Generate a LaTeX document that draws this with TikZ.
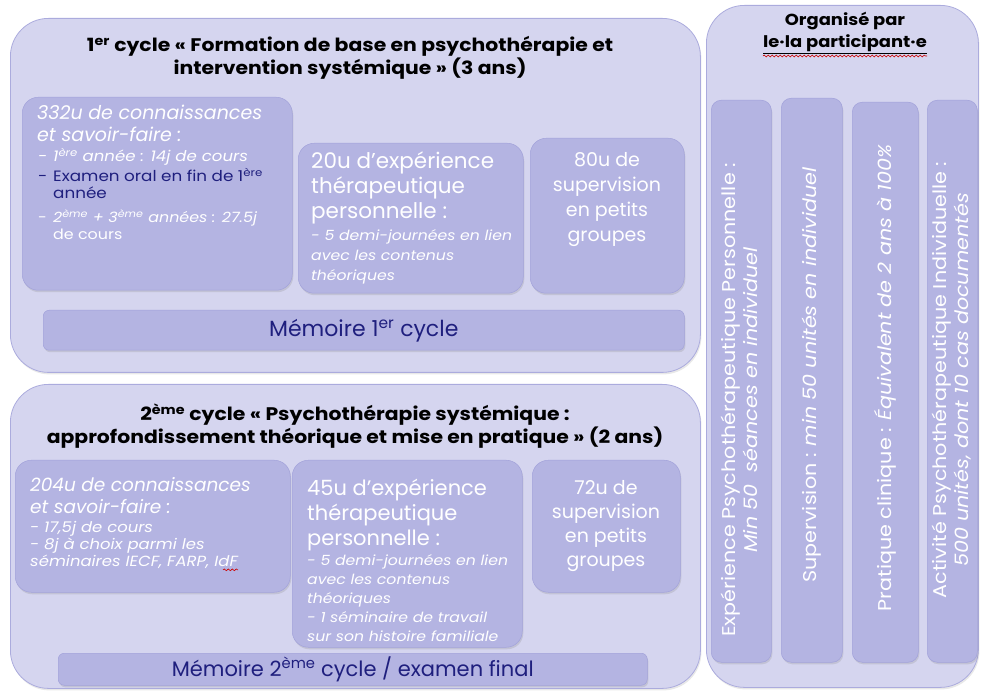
\documentclass[tikz,border=0pt]{standalone}
\usepackage{fontspec}
\setmainfont{Poppins}
\newfontfamily\widefont{Poppins}[FakeStretch=1.12]
\usetikzlibrary{shadows, decorations.pathmorphing}
\definecolor{cyclefill}{HTML}{D5D5EF}
\definecolor{cycleline}{HTML}{ABABDD}
\definecolor{unitfill}{HTML}{B4B4E2}
\definecolor{unitline}{HTML}{A2A2DA}
\definecolor{memtext}{HTML}{1F1F7E}
\tikzset{
  cyclebox/.style={draw=cycleline, fill=cyclefill, line width=0.8pt, rounded corners=38pt, anchor=north west, inner sep=0pt, drop shadow={opacity=0.18, shadow xshift=1pt, shadow yshift=-2pt}},
  unitbox/.style={draw=unitline, fill=unitfill, line width=0.5pt, rounded corners=16pt, anchor=north west, inner sep=0pt, drop shadow={opacity=0.22, shadow xshift=1pt, shadow yshift=-2pt}},
  headtext/.style={align=center, inner sep=0pt, font=\widefont\bfseries\fontsize{18.2}{23.5}\selectfont},
  bigtext/.style={text=white, align=center, inner sep=0pt, font=\fontsize{19}{25}\selectfont},
  smalltext/.style={text=white, align=left, anchor=west, inner sep=0pt, font=\widefont\itshape\fontsize{14}{19}\selectfont},
  coltext/.style={text=white, rotate=90, align=center, inner sep=0pt, font=\widefont\fontsize{18.5}{22}\selectfont},
  spellwave/.style={draw=red!80!black, line width=0.6pt, decorate, decoration={snake, amplitude=0.9pt, segment length=4pt}},
}
\begin{document}
\begin{tikzpicture}[x=1pt, y=-1pt]
\useasboundingbox (0,0) rectangle (983,692);
\node[cyclebox, minimum width=690pt, minimum height=354pt] (cycleA) at (10,18) {};
\node[cyclebox, minimum width=690pt, minimum height=304pt] (cycleB) at (10,384) {};
\node[cyclebox, minimum width=272pt, minimum height=682pt] (byself) at (706,5) {};

\node[unitbox, minimum width=270pt, minimum height=193pt] (knowA) at (22,97) {};
\node[unitbox, minimum width=225pt, minimum height=150pt] (therA) at (298,143) {};
\node[unitbox, minimum width=154pt, minimum height=155pt] (supA) at (530,138) {};
\node[unitbox, minimum width=641pt, minimum height=40pt, rounded corners=6pt, text=memtext, font=\fontsize{22}{26}\selectfont] (memA) at (43,310) {Mémoire 1\textsuperscript{er} cycle};

\node[unitbox, minimum width=275pt, minimum height=132pt] (knowB) at (15,460) {};
\node[unitbox, minimum width=230pt, minimum height=187pt] (therB) at (292,460) {};
\node[unitbox, minimum width=148pt, minimum height=132pt] (supB) at (532,460) {};
\node[unitbox, minimum width=589pt, minimum height=32pt, rounded corners=6pt, text=memtext, font=\fontsize{21}{24}\selectfont] (memB) at (58,653) {Mémoire 2\textsuperscript{ème} cycle / examen final};

\node[unitbox, rounded corners=10pt, minimum width=60pt, minimum height=562pt] (persexp) at (711,100) {};
\node[unitbox, rounded corners=10pt, minimum width=61pt, minimum height=564pt] (superv) at (781,98) {};
\node[unitbox, rounded corners=10pt, minimum width=66pt, minimum height=560pt] (clinic) at (852,102) {};
\node[unitbox, rounded corners=10pt, minimum width=50pt, minimum height=562pt] (psyact) at (927,100) {};

\node[headtext] (titleA) at (350,58) {1\textsuperscript{er} cycle « Formation de base en psychothérapie et\\intervention systémique » (3 ans)};
\node[headtext] (titleB) at (355,426) {2\textsuperscript{ème} cycle « Psychothérapie systémique :\\approfondissement théorique et mise en pratique » (2 ans)};
\node[headtext, font=\widefont\bfseries\fontsize{16}{22}\selectfont] (titleC) at (845,33) {Organisé par\\\underline{le·la participant·e}};
\draw[spellwave] ([yshift=-2pt]titleC.south west) -- ([yshift=-2pt]titleC.south east);

\node[smalltext, font=\itshape\fontsize{19}{22}\selectfont] (knowAhead) at (37,123) {332u de connaissances\\et savoir-faire :};
\node[smalltext, font=\widefont\itshape\fontsize{14.8}{19}\selectfont] (knowAyear) at (38,156.5) {\makebox[15pt][l]{-}1\textsuperscript{ère} année : 14j de cours};
\node[smalltext, text=memtext, font=\widefont\fontsize{15}{17}\selectfont] (knowAexam) at (38,183.5) {\makebox[15pt][l]{-}Examen oral en fin de 1\textsuperscript{ère}\\\hspace*{15pt}année};
\node[smalltext, font=\widefont\fontsize{14.2}{17}\selectfont] (knowAnext) at (38,225) {\makebox[15pt][l]{-}\textit{2\textsuperscript{ème} + 3\textsuperscript{ème} années : 27.5j}\\\hspace*{15pt}de cours};

\node[smalltext, font=\fontsize{21.5}{25}\selectfont] (therAhead) at (311,188) {20u d'expérience\\thérapeutique\\personnelle :};
\node[smalltext, font=\widefont\itshape\fontsize{14}{20}\selectfont] (therAnote) at (311,257) {- 5 demi-journées en lien\\avec les contenus\\théoriques};
\node[bigtext] (supAtext) at (607,200) {80u de\\supervision\\en petits\\groupes};

\node[smalltext, font=\itshape\fontsize{18.5}{22}\selectfont] (knowBhead) at (30,496) {204u de connaissances\\et savoir-faire :};
\node[smalltext, font=\widefont\itshape\fontsize{14.7}{17}\selectfont] (knowBnote) at (30,545) {- 17,5j de cours\\- 8j à choix parmi les\\séminaires IECF, FARP, IdF};
\draw[spellwave] ([xshift=-15pt, yshift=-1pt]knowBnote.south east) -- ([yshift=-1pt]knowBnote.south east);

\node[smalltext, font=\fontsize{21}{25}\selectfont] (therBhead) at (307,515) {45u d'expérience\\thérapeutique\\personnelle :};
\node[smalltext, font=\widefont\itshape\fontsize{14}{19}\selectfont] (therBnote) at (307,598) {- 5 demi-journées en lien\\avec les contenus\\théoriques\\- 1 séminaire de travail\\sur son histoire familiale};
\node[bigtext, font=\fontsize{19}{24}\selectfont] (supBtext) at (606,526) {72u de\\supervision\\en petits\\groupes};

\node[coltext] (persexptext) at (739,400) {Expérience Psychothérapeutique Personnelle :\\\textit{Min 50~ séances en individuel}};
\node[coltext] (supervtext) at (812,375) {Supervision : \textit{min 50 unités en individuel}};
\node[coltext] (clinictext) at (885,378) {Pratique clinique : \textit{Équivalent de 2 ans à 100\%}};
\node[coltext] (psyacttext) at (952,380) {Activité Psychothérapeutique Individuelle :\\\textit{500 unités, dont 10 cas documentés}};
\end{tikzpicture}
\end{document}
